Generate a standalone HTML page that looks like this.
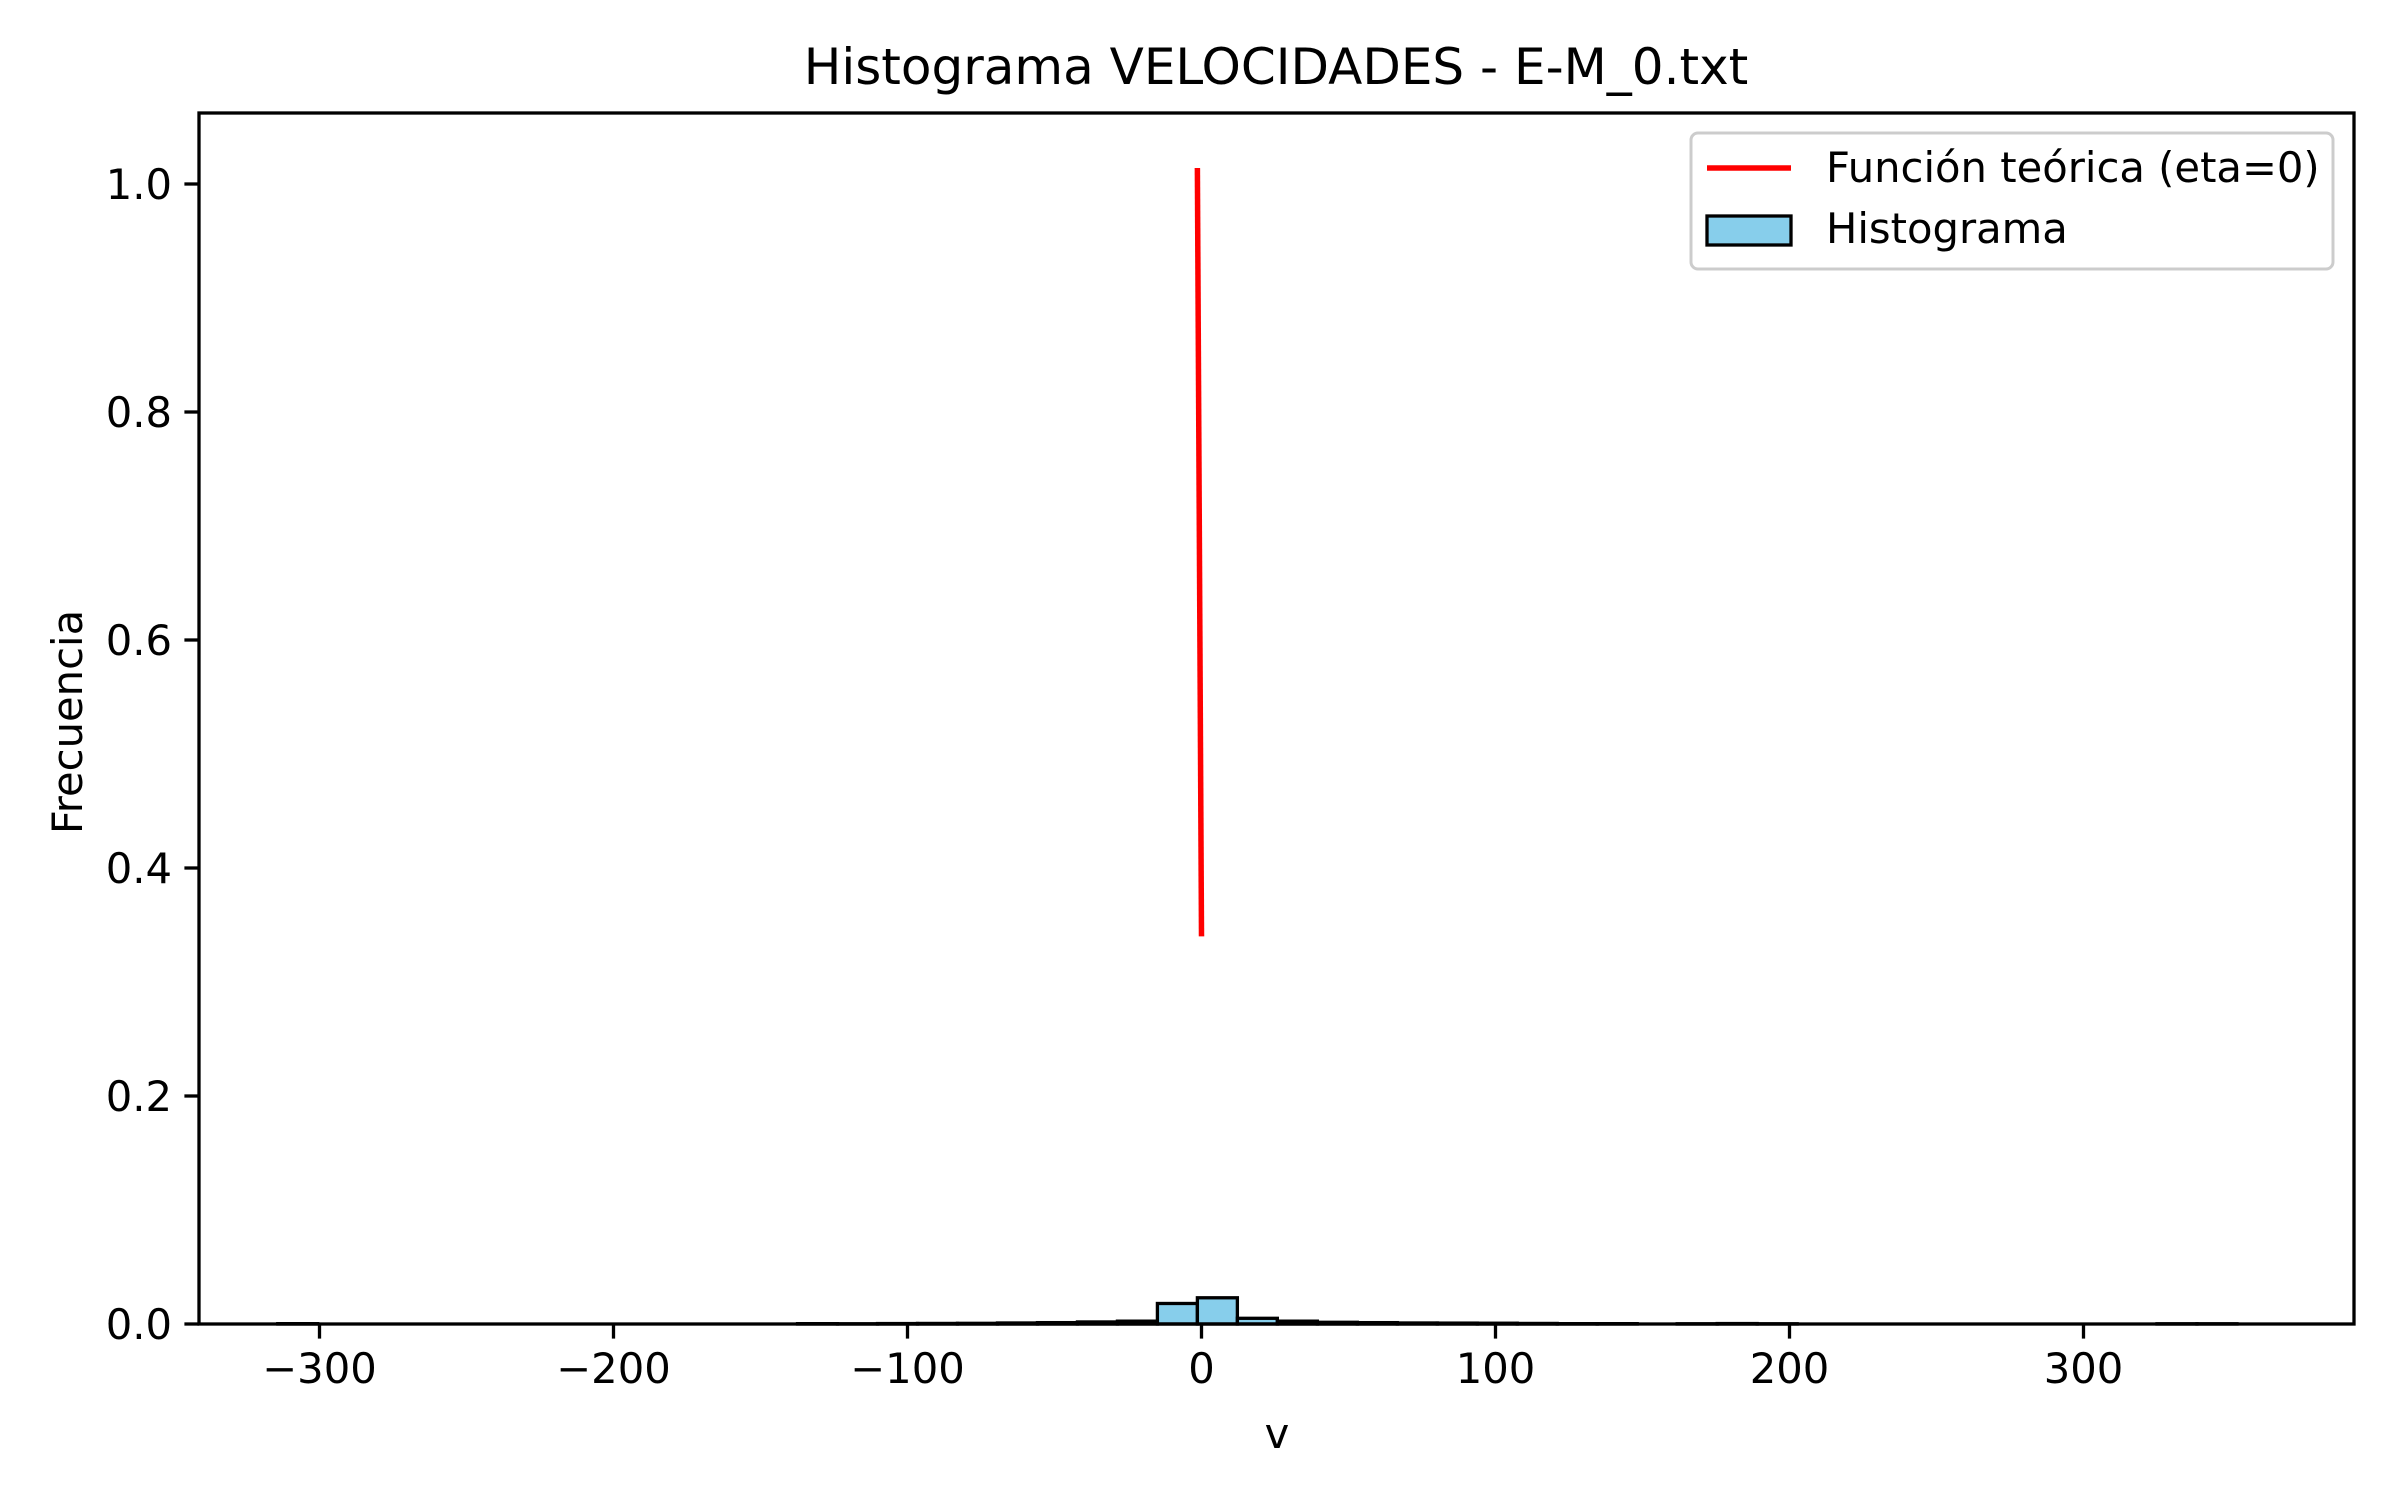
<!DOCTYPE html>
<html><head><meta charset="utf-8"><style>
html,body{margin:0;padding:0;background:#fff}
svg{display:block;font-family:"DejaVu Sans","Liberation Sans",sans-serif}
</style></head><body>
<svg id="chart" width="2400" height="1500" viewBox="0 0 2400 1500" xmlns="http://www.w3.org/2000/svg">
<rect width="2400" height="1500" fill="#fff"/>
<text x="1276" y="84" font-size="50" text-anchor="middle">Histograma VELOCIDADES - E-M_0.txt</text>
<g id="bars"></g>
<g id="line"></g>
<g id="axes"></g>
<text x="1277" y="1448" font-size="41.7" text-anchor="middle">v</text>
<text x="0" y="0" font-size="41.7" text-anchor="middle" transform="translate(82,722) rotate(-90)">Frecuencia</text>
<g>
<rect x="1691" y="133" width="642" height="136" rx="7" fill="#fff" stroke="#ccc" stroke-width="3"/>
<line x1="1707" y1="168" x2="1791" y2="168" stroke="red" stroke-width="5.5"/>
<text x="1826" y="182" font-size="41.7">Función teórica (eta=0)</text>
<rect x="1707" y="216" width="84" height="29" fill="#87ceeb" stroke="#000" stroke-width="3.3"/>
<text x="1826" y="243" font-size="41.7">Histograma</text>
</g>
</svg>
<script>
const binStart = -314.2;
const binWidth = 13.6;
const binCounts = [0.0003,0,0,0,0,0,0,0,0,0,0,0,0,0.0003,0.0002,0.0004,0.0005,0.0006,0.0009,0.0012,0.0018,0.0025,0.018,0.023,0.005,0.0025,0.0015,0.0012,0.0009,0.0008,0.0007,0.0005,0.0003,0.0003,0,0.0002,0.0004,0.0002,0,0,0,0,0,0,0,0,0,0.0002,0.0002];
const lineX = [-1.4, 0];
const lineY = [1.014, 0.34];
const xTicks = [-300,-200,-100,0,100,200,300];
const yTicks = [0.0,0.2,0.4,0.6,0.8,1.0];
const yTickLabels = ["0.0","0.2","0.4","0.6","0.8","1.0"];

const L=199,R=2354,T=113,B=1324;
const xs = v => 1201.5 + v*2.94;
const ys = v => B - v*1140;
const NS="http://www.w3.org/2000/svg";
function mk(tag, attrs, parent){const e=document.createElementNS(NS,tag);for(const k in attrs)e.setAttribute(k,attrs[k]);parent.appendChild(e);return e;}
const bars=document.getElementById('bars');
binCounts.forEach((c,i)=>{
  const x0=xs(binStart+i*binWidth), x1=xs(binStart+(i+1)*binWidth);
  const r=mk('rect',{x:x0,y:ys(c),width:x1-x0,height:B-ys(c),fill:'#87ceeb',stroke:'#000','stroke-width':3.3},bars);
  
  
});
const lg=document.getElementById('line');
const pl=mk('polyline',{points:lineX.map((x,i)=>xs(x)+','+ys(lineY[i])).join(' '),fill:'none',stroke:'red','stroke-width':5.5},lg);


const ax=document.getElementById('axes');
const fr=mk('rect',{x:L,y:T,width:R-L,height:B-T,fill:'none',stroke:'#000','stroke-width':3.3},ax);


xTicks.forEach(t=>{
  const x=xs(t);
  const tl=mk('line',{x1:x,y1:B,x2:x,y2:B+14.6,stroke:'#000','stroke-width':3.3},ax);
  
  
  const tx=mk('text',{x:x,y:B+59,'font-size':41.7,'text-anchor':'middle'},ax);
  tx.textContent=(t<0?'\u2212'+(-t):''+t);
  
  
});
yTicks.forEach((t,i)=>{
  const y=ys(t);
  const tl=mk('line',{x1:L-14.6,y1:y,x2:L,y2:y,stroke:'#000','stroke-width':3.3},ax);
  
  
  const tx=mk('text',{x:L-27,y:y+15,'font-size':41.7,'text-anchor':'end'},ax);
  tx.textContent=yTickLabels[i];
  
  
});
</script>
</body></html>
